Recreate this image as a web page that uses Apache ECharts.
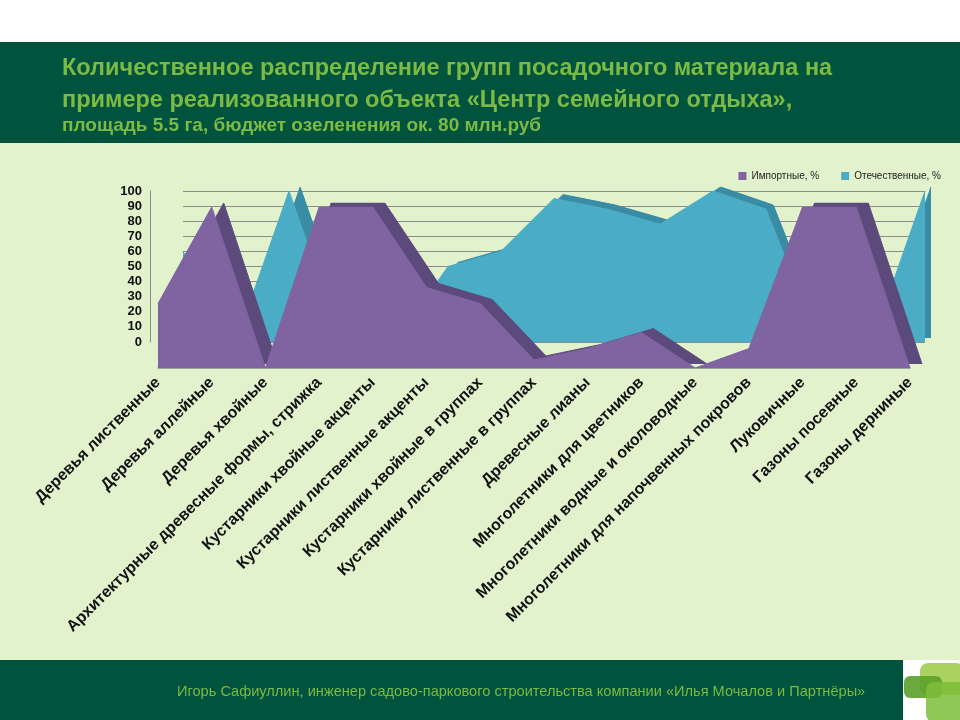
<!DOCTYPE html>
<html>
<head>
<meta charset="UTF-8">
<title>Количественное распределение групп посадочного материала</title>
<script src="https://cdn.jsdelivr.net/npm/echarts@6/dist/echarts.min.js"></script>
<style>
  html, body { margin: 0; padding: 0; background: #fff; }
  #main { width: 960px; height: 720px; }
</style>
</head>
<body>
<div id="main"></div>
<script type="text/javascript">
// группы посадочного материала
var categories = [
    'Деревья лиственные',
    'Деревья аллейные',
    'Деревья хвойные',
    'Архитектурные древесные формы, стрижка',
    'Кустарники хвойные акценты',
    'Кустарники лиственные акценты',
    'Кустарники хвойные в группах',
    'Кустарники лиственные в группах',
    'Древесные лианы',
    'Многолетники для цветников',
    'Многолетники водные и околоводные',
    'Многолетники для напочвенных покровов',
    'Луковичные',
    'Газоны посевные',
    'Газоны дерниные'
];
// Импортные, %
var imported = [40, 100, 0, 100, 100, 50, 40, 5, 12, 22, 0, 12, 100, 100, 0];
// Отечественные, %
var domestic = [60, 0, 100, 0, 0, 50, 60, 95, 88, 78, 100, 88, 0, 0, 100];
var yTicks = [0, 10, 20, 30, 40, 50, 60, 70, 80, 90, 100];

var darkGreen = '#00533d';
var titleGreen = '#7cba45';
var font = 'Liberation Sans, Arial, sans-serif';

var myChart = echarts.init(document.getElementById('main'));

function hiddenX(i) {
    return {
        type: 'category', gridIndex: i, data: categories, boundaryGap: false,
        show: false
    };
}
function hiddenY(i) {
    return { type: 'value', gridIndex: i, min: 0, max: 100, show: false, splitLine: { show: false } };
}
function area(name, xi, data, color, z) {
    return {
        name: name, type: 'line', xAxisIndex: xi, yAxisIndex: xi, data: data,
        symbol: 'none', silent: true, z: z,
        lineStyle: { color: color, width: 1 },
        itemStyle: { color: color },
        areaStyle: { color: color, opacity: 1 }
    };
}

var option = {
    backgroundColor: '#ffffff',
    animation: false,
    textStyle: { fontFamily: font },
    graphic: [
        { type: 'rect', z: -10, shape: { x: 0, y: 42, width: 960, height: 101 }, style: { fill: darkGreen } },
        { type: 'rect', z: -10, shape: { x: 0, y: 143, width: 960, height: 517 }, style: { fill: '#e1f2cd' } },
        { type: 'rect', z: -10, shape: { x: 0, y: 660, width: 903, height: 60 }, style: { fill: darkGreen } },
        // логотип
        { type: 'rect', z: -9, shape: { x: 920, y: 663, width: 44, height: 32, r: 8 }, style: { fill: 'rgba(160,205,80,0.9)' } },
        { type: 'rect', z: -8, shape: { x: 904, y: 676, width: 38, height: 22, r: 6 }, style: { fill: 'rgba(92,160,42,0.9)' } },
        { type: 'rect', z: -7, shape: { x: 926, y: 682, width: 40, height: 40, r: 8 }, style: { fill: 'rgba(125,190,55,0.85)' } }
    ],
    title: [
        {
            text: 'Количественное распределение групп посадочного материала на\nпримере реализованного объекта «Центр семейного отдыха»,',
            left: 62, top: 53, padding: 0,
            textStyle: { color: titleGreen, fontSize: 23.5, fontWeight: 'bold', lineHeight: 32, fontFamily: font }
        },
        {
            text: 'площадь 5.5 га, бюджет озеленения ок. 80 млн.руб',
            left: 62, top: 116, padding: 0,
            textStyle: { color: titleGreen, fontSize: 19, fontWeight: 'bold', fontFamily: font }
        },
        {
            text: 'Игорь Сафиуллин, инженер садово-паркового строительства компании «Илья Мочалов и Партнёры»',
            left: 177, top: 684, padding: 0,
            textStyle: { color: titleGreen, fontSize: 14.6, fontWeight: 'normal', fontFamily: font }
        }
    ],
    legend: {
        data: ['Импортные, %', 'Отечественные, %'],
        top: 166, right: 14,
        icon: 'rect', itemWidth: 8, itemHeight: 8, itemGap: 22,
        textStyle: { fontSize: 10, color: '#222' }
    },
    grid: [
        { left: 183, right: 35, top: 191, bottom: 378 },   // задняя стенка, отечественные
        { left: 195, right: 29, top: 187, bottom: 382 },   // грань отечественных
        { left: 170, right: 38, top: 203, bottom: 356 },   // грань импортных
        { left: 158, right: 50, top: 207, bottom: 352 }    // импортные, передний план
    ],
    xAxis: [
        hiddenX(0),
        hiddenX(1),
        hiddenX(2),
        {
            type: 'category', gridIndex: 3, data: categories, boundaryGap: false,
            axisLine: { lineStyle: { color: '#8c8c8c', width: 1.5 } },
            axisTick: { show: false },
            axisLabel: {
                interval: 0, rotate: 45, margin: 12,
                fontSize: 16, fontWeight: 'bold', color: '#111'
            },
            splitLine: { show: false }
        }
    ],
    yAxis: [
        {
            type: 'value', gridIndex: 0, min: 0, max: 100, interval: 10, offset: 33,
            axisLine: { show: true, lineStyle: { color: '#8c8c8c' } },
            axisTick: { show: false },
            axisLabel: {
                fontSize: 13, fontWeight: 'bold', color: '#111', margin: 8,
                customValues: yTicks
            },
            splitLine: { show: true, lineStyle: { color: '#8c8c8c', width: 1 } }
        },
        hiddenY(1),
        hiddenY(2),
        hiddenY(3)
    ],
    series: [
        area('', 1, domestic, '#3a8ca5', 2),
        area('Отечественные, %', 0, domestic, '#4bacc6', 3),
        area('', 2, imported, '#5d4a7c', 4),
        area('Импортные, %', 3, imported, '#8064a2', 5)
    ]
};
myChart.setOption(option);
</script>
</body>
</html>
